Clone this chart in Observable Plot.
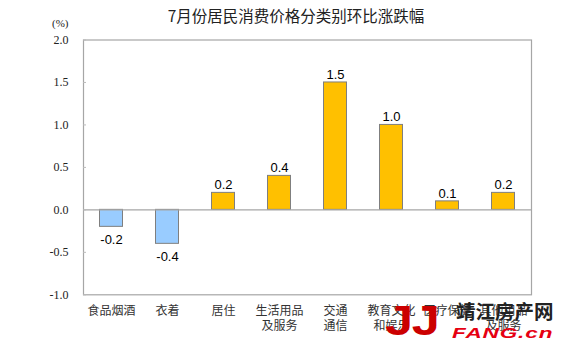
<!DOCTYPE html>
<html>
<head>
<meta charset="utf-8">
<script src="https://cdn.jsdelivr.net/npm/d3@7"></script>
<script src="https://cdn.jsdelivr.net/npm/@observablehq/plot@0.6"></script>
<style>
  html, body { margin: 0; padding: 0; background: #fff; }
  #wrap { position: relative; width: 576px; height: 353px; overflow: hidden; }
  #title { position: absolute; left: 0; width: 592px; top: 4px; text-align: center;
    font-family: "Noto Sans CJK SC", sans-serif; font-size: 15.5px; color: #222; }
  #unit { position: absolute; left: 52px; top: 17px; font-family: "Liberation Serif", serif; font-size: 11px; color: #222; }
  .wm { position: absolute; white-space: nowrap; line-height: 1; transform-origin: left top; }
</style>
</head>
<body>
<div id="wrap">
  <div id="chart"></div>
  <div id="title">7月份居民消费价格分类别环比涨跌幅</div>
  <div id="unit">(%)</div>
  <div class="wm" style="left:385px; top:299.5px; font-family:'Liberation Sans',sans-serif; font-weight:bold; font-size:42px; color:#cc0000; letter-spacing:-1px; transform:scaleX(1.2);">JJ</div>
  <div class="wm" style="left:456px; top:301px; font-family:'Noto Sans CJK SC',sans-serif; font-weight:bold; font-size:19.5px; color:#222;">靖江房产网</div>
  <div class="wm" style="left:452px; top:324.8px; font-family:'Liberation Sans',sans-serif; font-weight:bold; font-style:italic; font-size:15px; color:#e60012; letter-spacing:0.6px; transform:scaleX(1.5);">FANG.cn</div>
</div>
<script>
const categories = ["食品烟酒", "衣着", "居住", "生活用品\n及服务", "交通\n通信", "教育文化\n和娱乐", "医疗保健", "其他用品\n及服务"];
const values = [-0.2, -0.4, 0.2, 0.4, 1.5, 1.0, 0.1, 0.2];
const yTicks = [-1.0, -0.5, 0.0, 0.5, 1.0, 1.5, 2.0];

const data = categories.map((c, i) => ({cat: c, value: values[i]}));
const fmt = v => v.toFixed(1);

const chart = Plot.plot({
  width: 576,
  height: 353,
  marginTop: 39.5,
  marginBottom: 58.7,
  marginLeft: 83,
  marginRight: 45,
  style: {background: "#fff"},
  x: {domain: categories, padding: 0},
  y: {domain: [-1, 2]},
  marks: [
    Plot.barY(data, {x: "cat", y: "value", insetLeft: 16.5, insetRight: 16.5,
      fill: d => d.value < 0 ? "#99ccff" : "#ffc000", stroke: "#7f7f7f", strokeWidth: 1}),
    Plot.ruleY([0], {stroke: "#a6a6a6", strokeWidth: 1.2}),
    Plot.frame({stroke: "#a6a6a6", strokeWidth: 1.2}),
    Plot.axisY({ticks: yTicks, tickSize: -3, text: null, stroke: "#bbb", label: null}),
    Plot.axisY({ticks: yTicks, tickSize: 0, tickPadding: 15, tickFormat: fmt,
      fontFamily: "Liberation Serif, serif", fontSize: 12, fill: "#222", label: null}),
    Plot.axisX({tickSize: 0, tickPadding: 10, lineHeight: 1.25,
      fontFamily: "Noto Sans CJK SC, sans-serif", fontSize: 12, fill: "#333", label: null}),
    Plot.text(data.filter(d => d.value >= 0), {x: "cat", y: "value", text: d => fmt(d.value), dy: -8,
      fontFamily: "Liberation Sans, Arial, sans-serif", fontSize: 13, fill: "#000"}),
    Plot.text(data.filter(d => d.value < 0), {x: "cat", y: "value", text: d => fmt(d.value), dy: 13,
      fontFamily: "Liberation Sans, Arial, sans-serif", fontSize: 13, fill: "#000"})
  ]
});
document.getElementById("chart").appendChild(chart);
</script>
</body>
</html>
